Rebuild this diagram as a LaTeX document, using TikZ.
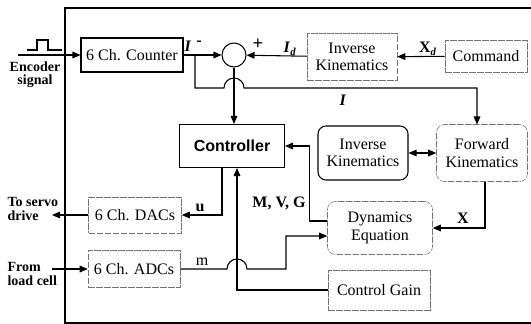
\documentclass[tikz,border=0pt]{standalone}
\usepackage{fontspec}
\setmainfont{Liberation Serif}
\setsansfont{Liberation Sans}
\usetikzlibrary{arrows.meta}

\begin{document}
\begin{tikzpicture}
[
	x=0.75pt, y=-0.75pt,
	>={Triangle[length=6pt,width=5pt]},
	font=\fontsize{12}{13}\selectfont,
	block/.style={draw,thick,align=center,inner sep=1pt},
	faintblock/.style={draw=black!55,thin,dash pattern=on 5pt off 1pt,align=center,inner sep=1pt},
	sumpt/.style={circle,draw,thick,minimum size=18pt,inner sep=0pt},
	sig/.style={font=\fontsize{12}{13}\selectfont\bfseries,inner sep=1pt},
	outsig/.style={font=\fontsize{10.5}{10}\selectfont\bfseries,inner sep=1pt},
	wire/.style={thick}
]

	\useasboundingbox (0,0) rectangle (531,324);

	% frame
	\draw[line width=1.2pt] (531,8) -- (65,8) -- (65,323) -- (531,323);

	% blocks
	\node[block,minimum width=76.5pt,minimum height=25.5pt] (counter) at (132,55) {6 Ch. Counter};
	\node[sumpt] (sum) at (234,55) {};
	\node[faintblock,minimum width=67.5pt,minimum height=35pt] (ikin) at (352,57) {Inverse\\Kinematics};
	\node[faintblock,minimum width=61.5pt,minimum height=24pt] (command) at (486,56) {Command};
	\node[block,minimum width=78.75pt,minimum height=32.25pt,font=\fontsize{12}{13}\selectfont\sffamily\bfseries] (controller) at (232,146) {Controller};
	\node[block,rounded corners=6pt,minimum width=67.5pt,minimum height=40.5pt] (ikin2) at (363,153) {Inverse\\Kinematics};
	\node[faintblock,rounded corners=6pt,minimum width=68.25pt,minimum height=42.75pt] (fkin) at (482,153) {Forward\\Kinematics};
	\node[faintblock,rounded corners=6pt,minimum width=78.75pt,minimum height=39.75pt] (dyn) at (380,228) {Dynamics\\Equation};
	\node[faintblock,minimum width=76.5pt,minimum height=30pt] (gain) at (379,290) {Control Gain};
	\node[faintblock,minimum width=69.75pt,minimum height=27pt] (dac) at (135,215) {6 Ch. DACs};
	\node[faintblock,minimum width=69pt,minimum height=27.75pt] (adc) at (134,269) {6 Ch. ADCs};

	% outside signals
	\node[align=center,outsig] (enctext) at (35,75) {Encoder\\signal};
	\node[align=left,outsig,anchor=west] (servotext) at (6,209) {To servo\\drive};
	\node[align=left,outsig,anchor=west] (loadtext) at (6,274) {From\\load cell};
	\coordinate (enc) at (18,55);
	\coordinate (servo) at (52,215);
	\coordinate (load) at (52,269);
	\draw[wire] (27,50) -- (37,50) -- (37,40) -- (48,40) -- (48,50) -- (62,50);

	% connectors
	\draw[wire,->] (enc) -- (counter);
	\draw[wire,->] (counter) -- (sum);
	\draw[wire,->] (195,55) |- (224,88) arc (180:360:10) -- (477,88) -- (477,124.5);
	\draw[wire,->] (command) -- (ikin);
	\draw[wire,->] (ikin) -- (sum);
	\draw[wire,->] (sum) -- (sum |- controller.north);
	\draw[wire,<->] (ikin2) -- (fkin);
	\draw[wire,->] (fkin.south -| 485,0) |- (dyn.east);
	\draw[wire,->] ([yshift=5.25pt]dyn.west) -- ++(-18,0) |- (controller);
	\draw[wire,->] ([xshift=-7.5pt]controller.south) |- (dac);
	\draw[wire,->] (dac) -- (servo);
	\draw[wire,->] (load) -- (adc);
	\draw[wire,->] (adc) -- (227,269) arc (180:360:10) -- (286,269) |- ([yshift=-6pt]dyn.west);
	\draw[wire,->] (gain) -| ([xshift=3.75pt]controller.south);

	% signal labels
	\node[sig] (lI) at (188,46) {\textit{I}};
	\node[sig] (lminus) at (199,43) {-};
	\node[sig,font=\fontsize{14}{14}\selectfont\bfseries] (lplus) at (258,44) {+};
	\node[sig] (lId) at (290,49) {\textit{I}\textsubscript{\textit{d}}};
	\node[sig] (lXd) at (428,49) {X\textsubscript{\textit{d}}};
	\node[sig] (lI2) at (343,100) {\textit{I}};
	\node[sig] (lMVG) at (279,203) {M, V, G};
	\node[sig] (lX) at (463,218) {X};
	\node[sig] (lu) at (200,208) {u};
	\node[inner sep=1pt] (lm) at (202,262) {m};

\end{tikzpicture}
\end{document}
